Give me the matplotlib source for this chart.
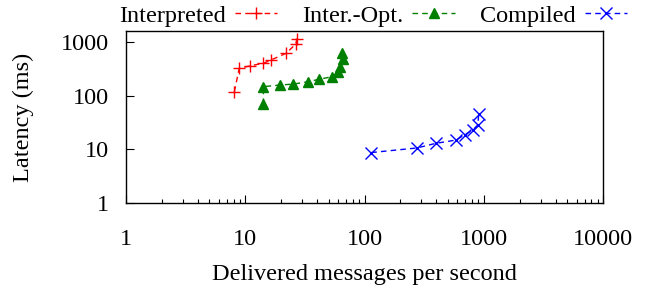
import matplotlib
matplotlib.use('Agg')
import matplotlib.pyplot as plt
import numpy as np

# messages per second / latency (ms)
interp_x=[8.1,8.9,11.0,14.2,16.6,22.0,26.5,27.2]
interp_y=[118,322,360,400,466,614,914,1132]
opt_x=[14.2,14.2,19.7,25.3,33.8,41.3,53.3,60.5,62.9,65.7,65.3]
opt_y=[70,147,158,164,182,201,225,279,341,487,635]
comp_x=[114,275,395,587,692,809,891,908]
comp_y=[8.7,10.6,12.9,14.9,18.7,22.9,28.4,45.4]
xticks=[1,10,100,1000,10000]
yticks=[1,10,100,1000]

plt.rcParams['font.family']=['Liberation Serif','DejaVu Serif']
plt.rcParams['font.size']=17.5

fig=plt.figure(figsize=(6.57,2.9),dpi=100)
ax=fig.add_axes([126/657,87/290,477/657,172/290])

ax.plot(interp_x,interp_y,color='#ff0000',ls=(0,(4,3)),lw=1,marker='+',ms=9,mew=1,label='Interpreted')
ax.plot(opt_x,opt_y,color='#008000',ls=(0,(4,3)),lw=1,marker='^',ms=7,label='Inter.-Opt.')
ax.plot(comp_x,comp_y,color='#0000ff',ls=(0,(4,3)),lw=1,marker='x',ms=8,mew=1,label='Compiled')

ax.set_xscale('log')
ax.set_yscale('log')
ax.set_xlim(1,10000)
ax.set_ylim(1,1600)
ax.set_xticks(xticks)
ax.set_xticklabels([str(t) for t in xticks])
ax.set_yticks(yticks)
ax.set_yticklabels([str(t) for t in yticks])
ax.tick_params(which='major',direction='in',length=6,width=0.8,top=False,right=False)
ax.tick_params(axis='x',which='major',pad=18.5)
ax.tick_params(axis='y',which='major',pad=12)
ax.tick_params(which='minor',direction='in',length=3,width=0.8,top=False,right=False)
ax.xaxis.set_minor_formatter(matplotlib.ticker.NullFormatter())
ax.yaxis.set_minor_formatter(matplotlib.ticker.NullFormatter())
for s in ax.spines.values():
    s.set_linewidth(1)

ax.set_xlabel('Delivered messages per second')
ax.xaxis.set_label_coords(0.5,-0.353)
ax.set_ylabel('Latency (ms)')
ax.yaxis.set_label_coords(-0.193,0.5)

fig.legend(loc='center',bbox_to_anchor=(0.568,0.945),ncols=3,frameon=False,markerfirst=False,
           handlelength=1.75,handletextpad=0.35,columnspacing=1.05,borderpad=0,borderaxespad=0)

fig.savefig('out.png',dpi=100)
